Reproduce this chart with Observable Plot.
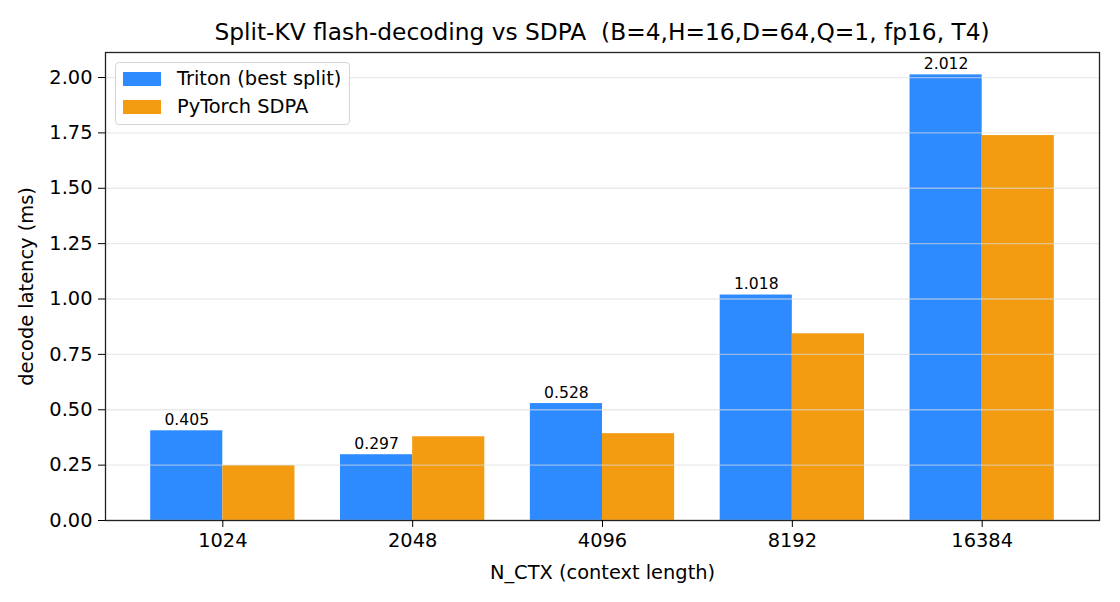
<!DOCTYPE html>
<html>
<head>
<meta charset="utf-8">
<script src="https://cdn.jsdelivr.net/npm/d3@7"></script>
<script src="https://cdn.jsdelivr.net/npm/@observablehq/plot@0.6"></script>
<style>
  body { margin: 0; background: #fff; font-family: "DejaVu Sans", sans-serif; }
  #wrap { position: relative; width: 1120px; height: 602px; }
  #title { position: absolute; left: 105px; width: 994px; top: 18px; text-align: center; font-size: 23.3px; color: #000; line-height: 28px; z-index: 2; }
  #chart { position: absolute; left: 0; top: 42px; z-index: 1; }
  #legend { position: absolute; left: 115px; top: 62px; width: 235px; height: 63px; border: 1px solid #d5d5d5; border-radius: 4px; background: rgba(255,255,255,0.85); box-sizing: border-box; z-index: 3; }
  .item { position: absolute; left: 7px; height: 24px; font-size: 19.4px; line-height: 24px; color: #000; }
  .sw { position: absolute; left: 0; top: 5px; width: 38px; height: 14px; }
  .lab { position: absolute; left: 54px; top: 0px; white-space: nowrap; }
</style>
</head>
<body>
<div id="wrap">
  <div id="title">Split-KV flash-decoding vs SDPA&nbsp; (B=4,H=16,D=64,Q=1, fp16, T4)</div>
  <div id="chart"></div>
  <div id="legend"></div>
</div>
<script>
const ctx = ["1024", "2048", "4096", "8192", "16384"];
const triton = [0.405, 0.297, 0.528, 1.018, 2.012];
const sdpa = [0.248, 0.378, 0.392, 0.843, 1.738];
const seriesNames = ["Triton (best split)", "PyTorch SDPA"];
const colors = ["#2e8bff", "#f39c12"];
const yTicks = [0, 0.25, 0.5, 0.75, 1.0, 1.25, 1.5, 1.75, 2.0];

const W = 0.38;
const rows = [];
ctx.forEach((c, i) => {
  rows.push({i, series: seriesNames[0], value: triton[i], x1: i - W, x2: i});
  rows.push({i, series: seriesNames[1], value: sdpa[i], x1: i, x2: i + W});
});
const labels = triton.map((v, i) => ({x: i - W / 2, y: v, text: v.toFixed(3)}));

const plot = Plot.plot({
  width: 1120,
  height: 560,
  marginTop: 10,
  marginBottom: 82,
  marginLeft: 105,
  marginRight: 21,
  style: { fontFamily: "DejaVu Sans, sans-serif", fontSize: "19.4px", color: "#000", background: "transparent" },
  x: { domain: [-0.618, 4.618], ticks: [0, 1, 2, 3, 4], tickFormat: i => ctx[i], tickSize: 7, tickPadding: 6, label: null },
  y: { domain: [0, 2.113], ticks: yTicks, tickFormat: d3.format(".2f"), tickSize: 7, tickPadding: 6, label: null },
  color: { domain: seriesNames, range: colors },
  marks: [
    Plot.rectY(rows, {x1: "x1", x2: "x2", y1: 0, y2: "value", fill: "series"}),
    Plot.gridY(yTicks, {stroke: "#dcdcdc", strokeOpacity: 0.6, strokeWidth: 1.3}),
    Plot.text(labels, {x: "x", y: "y", text: "text", lineAnchor: "bottom", dy: -6, fontSize: 15.6, fill: "#000"}),
    Plot.frame({stroke: "#222", strokeWidth: 1.3}),
    Plot.axisX({ticks: [0, 1, 2, 3, 4], tickFormat: i => ctx[i], tickSize: 7, tickPadding: 6, fontSize: 19.4, label: "N_CTX (context length)", labelAnchor: "center", labelOffset: 58, labelArrow: "none"}),
    Plot.axisY({ticks: yTicks, tickFormat: d3.format(".2f"), tickSize: 7, tickPadding: 6, fontSize: 19.4, label: "decode latency (ms)", labelAnchor: "center", labelOffset: 86, labelArrow: "none"})
  ]
});
document.getElementById("chart").appendChild(plot);

const legend = document.getElementById("legend");
seriesNames.forEach((name, k) => {
  const it = document.createElement("div");
  it.className = "item";
  it.style.top = (k === 0 ? 4 : 32) + "px";
  it.innerHTML = `<span class="sw" style="background:${colors[k]}"></span><span class="lab">${name}</span>`;
  legend.appendChild(it);
});
</script>
</body>
</html>
